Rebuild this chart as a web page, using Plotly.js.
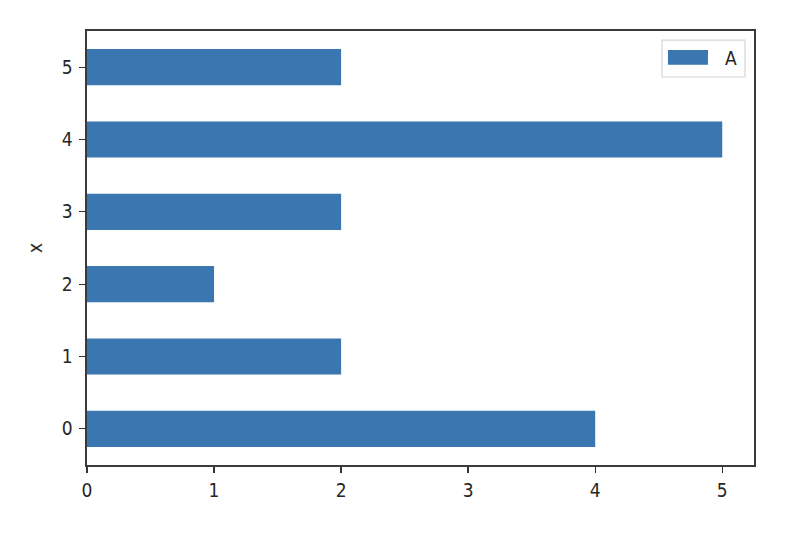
<!DOCTYPE html>
<html>
<head>
<meta charset="utf-8">
<script src="https://cdn.plot.ly/plotly-3.0.1.min.js"></script>
<style>html,body{margin:0;padding:0;background:#fff;}#chart{width:798px;height:534px;}</style>
</head>
<body>
<div id="chart"></div>
<script>
const categories = [0, 1, 2, 3, 4, 5];
const valuesA = [4, 2, 1, 2, 5, 2];
const xTicks = [0, 1, 2, 3, 4, 5];
const seriesName = "A";

const barColor = '#3a76af';
const FONT = 'DejaVu Sans Condensed, DejaVu Sans';

const trace = {
  type: 'bar',
  orientation: 'h',
  x: valuesA,
  y: categories,
  name: seriesName,
  width: 0.5,
  marker: {color: barColor, line: {width: 0}},
  showlegend: false
};

const layout = {
  width: 798, height: 534,
  margin: {l: 87, r: 44, t: 31, b: 69},
  paper_bgcolor: '#fff', plot_bgcolor: '#fff',
  font: {family: FONT, size: 19, color: '#262626'},
  showlegend: false,
  xaxis: {
    range: [0, 5.25], tickvals: xTicks, ticktext: xTicks.map(String),
    showgrid: false, zeroline: false,
    ticks: 'outside', ticklen: 6, tickwidth: 1.3, tickcolor: '#333',
    showline: true, linecolor: '#3a3a3a', linewidth: 1.6, mirror: true,
    ticklabelstandoff: 2,
    tickfont: {family: FONT, size: 19, color: '#262626'}
  },
  yaxis: {
    range: [-0.5, 5.5], tickvals: categories, ticktext: categories.map(String),
    showgrid: false, zeroline: false,
    ticks: 'outside', ticklen: 6, tickwidth: 1.3, tickcolor: '#333',
    showline: true, linecolor: '#3a3a3a', linewidth: 1.6, mirror: true,
    ticklabelstandoff: 3,
    tickfont: {family: FONT, size: 19, color: '#262626'},
    title: {text: 'x', font: {family: FONT, size: 19, color: '#262626'}, standoff: 14}
  },
  shapes: [
    {type: 'rect', xref: 'paper', yref: 'paper', x0: 0.862, x1: 0.9865, y0: 0.894, y1: 0.979,
     line: {color: '#d6d6d6', width: 1.2}, fillcolor: 'rgba(255,255,255,0.8)', layer: 'above'},
    {type: 'rect', xref: 'paper', yref: 'paper', x0: 0.871, x1: 0.931, y0: 0.922, y1: 0.956,
     line: {width: 0}, fillcolor: barColor, layer: 'above'}
  ],
  annotations: [
    {xref: 'paper', yref: 'paper', x: 0.966, y: 0.938, text: seriesName, showarrow: false,
     xanchor: 'center', yanchor: 'middle', font: {family: FONT, size: 19, color: '#262626'}}
  ]
};

Plotly.newPlot('chart', [trace], layout, {displayModeBar: false, staticPlot: true});
</script>
</body>
</html>
